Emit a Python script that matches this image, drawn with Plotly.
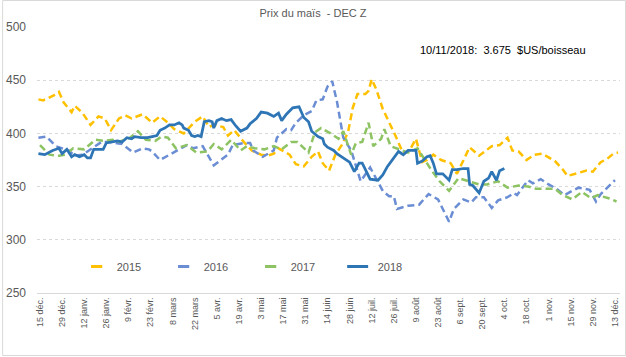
import plotly.graph_objects as go

# x = days since 15 Dec (season frame), y = price (cents/bu)
d2015 = [-1, 2, 9, 12, 15, 20, 22, 27, 32, 37, 41, 45, 50, 54, 58, 65, 71, 76, 81, 85, 91, 98, 103, 107, 110,
         116, 119, 123, 129, 134, 140, 144, 148, 151, 158, 162, 167, 172, 176, 179, 183, 187, 191, 195, 198,
         201, 206, 208, 210, 213, 217, 221, 225, 230, 234, 238, 242, 245, 249, 254, 260, 264, 269, 272, 278,
         286, 291, 296, 299, 303, 308, 313, 318, 326, 331, 334, 341, 346, 350, 355, 359, 363, 366]
v2015 = [432, 431, 436, 439, 429, 420, 426, 419, 408, 416, 414, 403, 414, 417, 414, 418, 410, 416, 410, 404,
         400, 411, 416, 406, 408, 406, 398, 403, 392, 384, 380, 379, 381, 386, 380, 371, 369, 378, 383, 372,
         365, 380, 389, 401, 424, 437, 437, 440, 451, 441, 423, 411, 398, 381, 384, 395, 373, 375, 380, 375,
         372, 362, 377, 387, 379, 388, 389, 396, 384, 383, 375, 380, 381, 374, 366, 360, 363, 365, 364, 373,
         376, 381, 382]

d2016 = [-1, 4, 10, 18, 22, 27, 34, 39, 44, 52, 59, 65, 69, 71, 76, 81, 88, 93, 97, 103, 110, 116, 119, 122,
         129, 133, 135, 141, 145, 148, 150, 156, 159, 162, 167, 172, 175, 179, 182, 185, 188, 192, 197, 203,
         209, 217, 221, 224, 226, 233, 240, 246, 252, 256, 259, 262, 268, 273, 276, 281, 286, 290, 296, 300,
         302, 309, 312, 317, 322, 327, 332, 337, 341, 348, 352, 355, 361, 364]
v2016 = [396, 397, 388, 384, 379, 380, 387, 392, 392, 390, 382, 386, 385, 383, 375, 379, 385, 389, 386, 388,
         370, 377, 380, 389, 391, 391, 384, 378, 381, 384, 396, 404, 403, 410, 417, 421, 431, 432, 444, 449,
         430, 396, 384, 355, 368, 346, 341, 341, 329, 332, 333, 343, 338, 326, 317, 329, 338, 335, 340, 340,
         330, 337, 340, 344, 342, 356, 353, 357, 352, 348, 342, 346, 349, 347, 336, 343, 352, 356]

d2017 = [0, 6, 12, 16, 21, 28, 35, 41, 46, 50, 57, 62, 67, 73, 77, 81, 86, 93, 99, 106, 110, 115, 121, 127,
         131, 136, 142, 148, 153, 159, 163, 170, 174, 178, 184, 189, 192, 197, 200, 204, 208, 211, 216, 218,
         222, 230, 233, 239, 248, 253, 259, 265, 272, 278, 283, 290, 296, 303, 309, 314, 319, 326, 331, 337,
         343, 349, 353, 360, 365]
v2017 = [389, 380, 379, 380, 386, 385, 394, 393, 394, 392, 396, 402, 394, 393, 397, 396, 386, 389, 382, 383,
         390, 385, 394, 384, 388, 386, 385, 388, 385, 392, 392, 382, 401, 405, 400, 395, 402, 380, 391, 392,
         410, 388, 395, 404, 388, 384, 382, 386, 365, 355, 346, 358, 355, 352, 352, 355, 349, 351, 350, 348,
         348, 348, 342, 338, 345, 339, 342, 339, 336]

d2018 = [-1, 3, 8, 12, 14, 17, 20, 22, 25, 28, 30, 32, 34, 37, 40, 42, 45, 49, 52, 55, 58, 60, 64, 68, 71,
         74, 76, 79, 82, 85, 88, 90, 91, 94, 96, 98, 100, 102, 104, 107, 109, 110, 112, 115, 118, 121, 124,
         127, 131, 133, 137, 140, 144, 148, 151, 153, 156, 160, 164, 167, 170, 172, 176, 179, 180, 182, 186,
         188, 191, 192, 196, 199, 202, 204, 208, 209, 214, 217, 220, 223, 227, 230, 233, 238, 239, 242, 245,
         247, 249, 251, 255, 259, 261, 264, 268, 271, 272, 274, 278, 281, 284, 286, 289, 291, 294]
v2018 = [381, 380, 384, 386, 381, 385, 378, 380, 378, 380, 377, 377, 385, 385, 385, 391, 392, 393, 392, 396,
         395, 397, 396, 396, 397, 398, 403, 405, 408, 408, 410, 408, 405, 403, 398, 397, 398, 397, 411, 412,
         411, 405, 412, 414, 412, 413, 407, 402, 405, 409, 414, 420, 419, 416, 419, 412, 418, 424, 425, 415,
         411, 402, 397, 395, 390, 387, 384, 381, 378, 377, 373, 364, 372, 372, 360, 357, 356, 361, 369, 375,
         383, 380, 384, 384, 372, 374, 378, 379, 372, 362, 362, 356, 366, 366, 367, 367, 352, 351, 344, 355,
         358, 364, 356, 365, 367]

tick_days = [0, 14, 28, 42, 56, 70, 84, 98, 112, 126, 140, 154, 168, 182, 196, 210, 224, 238, 252, 266,
             280, 294, 308, 322, 336, 350, 364]
tick_labels = ["15 déc.", "29 déc.", "12 janv.", "26 janv.", "9 févr.", "23 févr.", "8 mars", "22 mars",
               "5 avr.", "19 avr.", "3 mai", "17 mai", "31 mai", "14 juin", "28 juin", "12 juil.", "26 juil.",
               "9 août", "23 août", "6 sept.", "20 sept.", "4 oct.", "18 oct.", "1 nov.", "15 nov.",
               "29 nov.", "13 déc."]
y_ticks = [250, 300, 350, 400, 450, 500]

series = [
    ("2015", d2015, v2015, "#FFC000", "7px,4px", 2.5, 8),
    ("2016", d2016, v2016, "#6A8DD4", "7px,4px", 2.5, 8),
    ("2017", d2017, v2017, "#8DC363", "7px,4px", 2.5, 8),
    ("2018", d2018, v2018, "#2E75B6", "solid", 2.75, 15),
]

FONT = "Liberation Sans, Arial, sans-serif"
GREY = "#595959"

fig = go.Figure()
for name, xs, ys, col, dash, w, _ in series:
    fig.add_trace(go.Scatter(x=xs, y=ys, mode="lines", name=name, showlegend=False,
                             line=dict(color=col, width=w, dash=dash)))
for name, xs, ys, col, dash, w, msize in series:
    fig.add_trace(go.Scatter(x=[None], y=[None], mode="markers", name=name, showlegend=True,
                             marker=dict(symbol="line-ew", size=msize,
                                         line=dict(color=col, width=3))))

fig.update_layout(
    width=626, height=357,
    margin=dict(l=35, r=6, t=27, b=64),
    paper_bgcolor="white", plot_bgcolor="white",
    font=dict(family=FONT, color=GREY, size=11),
    title=dict(text="Prix du maïs\u00a0 - DEC Z", x=0.5, xref="container", xanchor="center",
               y=1 - 13 / 357, yref="container", yanchor="middle",
               font=dict(family=FONT, size=11, color=GREY)),
    showlegend=True,
    legend=dict(orientation="h", x=0.068, xanchor="left", y=0.10, yanchor="middle",
                entrywidth=42, entrywidthmode="pixels", bgcolor="rgba(0,0,0,0)",
                font=dict(family=FONT, size=11, color=GREY)),
    xaxis=dict(range=[-1.9, 367.2], tickmode="array", tickvals=tick_days, ticktext=tick_labels,
               tickangle=-90, tickfont=dict(family=FONT, size=9, color=GREY),
               showgrid=False, showline=True, linecolor="#D9D9D9", linewidth=1,
               ticks="", zeroline=False),
    yaxis=dict(range=[250, 500], tickmode="array", tickvals=y_ticks,
               tickfont=dict(family=FONT, size=12, color=GREY),
               showgrid=True, gridcolor="#D9D9D9", griddash="dot", gridwidth=1,
               showline=False, zeroline=False, ticks="", ticklabelstandoff=10),
    annotations=[dict(text="10/11/2018:\u00a0 3.675\u00a0 $US/boisseau", xref="paper", yref="paper",
                      x=0.945, y=(293 - 50) / 266, xanchor="right", yanchor="middle", showarrow=False,
                      font=dict(family=FONT, size=11, color="#000000"))],
    shapes=[dict(type="rect", xref="paper", yref="paper", x0=-34.5 / 585, x1=590.5 / 585,
                 y0=-62.5 / 266, y1=292.5 / 266, line=dict(color="#D9D9D9", width=1),
                 fillcolor="rgba(0,0,0,0)", layer="below")],
)

fig.write_html("out.html", config={"displayModeBar": False},
               post_script="document.body.style.margin='0';")
